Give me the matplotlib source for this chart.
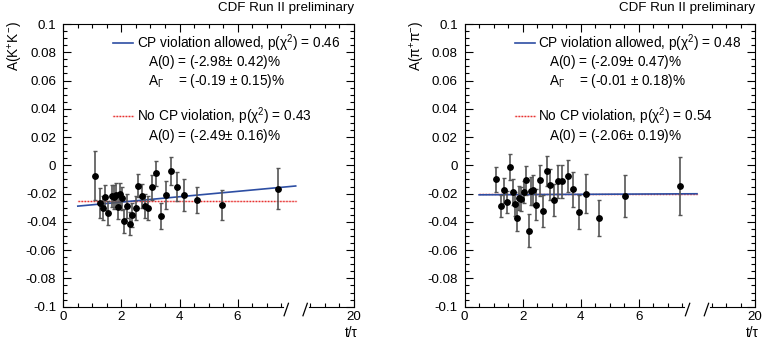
import matplotlib
matplotlib.use("Agg")
import matplotlib.pyplot as plt
import numpy as np
from matplotlib.lines import Line2D
import matplotlib.transforms as mtransforms

plt.rcParams['font.family'] = ['Liberation Sans', 'DejaVu Sans']
plt.rcParams['mathtext.fontset'] = 'custom'
plt.rcParams['mathtext.rm'] = 'Liberation Sans'
plt.rcParams['mathtext.it'] = 'Liberation Sans:italic'
plt.rcParams['mathtext.bf'] = 'Liberation Sans:bold'

# ---------------- data ----------------
t_kk = [1.09, 1.25, 1.37, 1.45, 1.55, 1.66, 1.75, 1.82, 1.87, 1.95, 2.03, 2.10, 2.19, 2.30, 2.38,
        2.49, 2.58, 2.71, 2.80, 2.92, 3.07, 3.20, 3.36, 3.52, 3.71, 3.93, 4.16, 4.60, 5.47, 7.39]
a_kk = [-0.0074, -0.0267, -0.0300, -0.0226, -0.0338, -0.0215, -0.0222, -0.0210, -0.0297, -0.0200,
        -0.0234, -0.0394, -0.0286, -0.0413, -0.0350, -0.0300, -0.0144, -0.0220, -0.0288, -0.0300,
        -0.0154, -0.0056, -0.0360, -0.0208, -0.0041, -0.0151, -0.0210, -0.0246, -0.0279, -0.0166]
e_kk = [0.0173, 0.0104, 0.0085, 0.0087, 0.0085, 0.0079, 0.0086, 0.0085, 0.0085, 0.0078,
        0.0083, 0.0083, 0.0083, 0.0083, 0.0083, 0.0086, 0.0080, 0.0085, 0.0085, 0.0086,
        0.0088, 0.0090, 0.0091, 0.0098, 0.0101, 0.0101, 0.0110, 0.0093, 0.0107, 0.0144]

t_pp = [1.08, 1.25, 1.36, 1.47, 1.56, 1.65, 1.72, 1.80, 1.87, 1.95, 2.03, 2.11, 2.20, 2.27, 2.36,
        2.47, 2.60, 2.71, 2.82, 2.93, 3.07, 3.21, 3.37, 3.55, 3.72, 3.94, 4.18, 4.62, 5.52, 7.43]
a_pp = [-0.0100, -0.0287, -0.0177, -0.0258, -0.0014, -0.0189, -0.0275, -0.0375, -0.0230, -0.0240,
        -0.0189, -0.0107, -0.0461, -0.0183, -0.0177, -0.0277, -0.0105, -0.0322, -0.0042, -0.0137,
        -0.0242, -0.0113, -0.0113, -0.0075, -0.0169, -0.0332, -0.0200, -0.0373, -0.0218, -0.0143]
e_pp = [0.0086, 0.0075, 0.0086, 0.0077, 0.0092, 0.0089, 0.0085, 0.0092, 0.0086, 0.0084,
        0.0080, 0.0100, 0.0114, 0.0098, 0.0107, 0.0110, 0.0110, 0.0115, 0.0107, 0.0110,
        0.0113, 0.0117, 0.0117, 0.0116, 0.0123, 0.0120, 0.0140, 0.0126, 0.0150, 0.0205]

# fit results: A(t) = A0 - A_Gamma * t/tau ; constant fit A0_const
fit_A0 = [-0.0298, -0.0209]
fit_AG = [-0.0019, -0.0001]
fit_const = [-0.0249, -0.0206]
fit_range = [0.5, 8.0]

ylabels = ['A(K$^{+}$K$^{-}$)', 'A(π$^{+}$π$^{-}$)']
leg_cp = ['CP violation allowed, p(χ$^{2}$) = 0.46', 'CP violation allowed, p(χ$^{2}$) = 0.48']
leg_a0 = ['A(0) = (-2.98$\\pm$ 0.42)%', 'A(0) = (-2.09$\\pm$ 0.47)%']
leg_ag = ['A$_{\\Gamma}$    = (-0.19 $\\pm$ 0.15)%', 'A$_{\\Gamma}$    = (-0.01 $\\pm$ 0.18)%']
leg_nocp = ['No CP violation, p(χ$^{2}$) = 0.43', 'No CP violation, p(χ$^{2}$) = 0.54']
leg_a0c = ['A(0) = (-2.49$\\pm$ 0.16)%', 'A(0) = (-2.06$\\pm$ 0.19)%']

xtick_pos = [0, 2, 4, 6, 10]
xtick_lab = ['0', '2', '4', '6', '20']
xminor = [0.5, 1, 1.5, 2.5, 3, 3.5, 4.5, 5, 5.5, 6.5, 7, 7.5, 8.5, 9, 9.5]
ytick_pos = [-0.1, -0.08, -0.06, -0.04, -0.02, 0, 0.02, 0.04, 0.06, 0.08, 0.1]
ytick_lab = ['-0.1', '-0.08', '-0.06', '-0.04', '-0.02', '0', '0.02', '0.04', '0.06', '0.08', '0.1']

# ---------------- figure ----------------
W, H = 764, 343
fig = plt.figure(figsize=(W / 100, H / 100), dpi=100)
fig.patch.set_facecolor('white')

def fx(px):
    return px / W

def fy(py):
    return 1 - py / H

ax_left_px = [63.3, 464.6]
ax_w_px = 290.5
ax_top, ax_bot = 24.0, 306.7
FS = 9.8
TFS = 9.6
blue = '#2d4ea3'
red = '#e8312f'
pink = '#f6b8b8'

datasets = [(t_kk, a_kk, e_kk), (t_pp, a_pp, e_pp)]

for i in range(2):
    L = ax_left_px[i]
    ax = fig.add_axes([fx(L), fy(ax_bot), ax_w_px / W, (ax_bot - ax_top) / H])
    t, a, e = datasets[i]
    ax.set_xlim(0, 10)
    ax.set_ylim(-0.1, 0.1)

    tt = np.linspace(fit_range[0], fit_range[1], 50)
    ax.plot(tt, np.full_like(tt, fit_const[i]), color=pink, lw=1.0, zorder=2)
    ax.plot(tt, np.full_like(tt, fit_const[i]), color=red, lw=1.0, ls=(0, (1, 1.2)), zorder=2.1)
    ax.plot(tt, fit_A0[i] - fit_AG[i] * tt, color=blue, lw=1.2, zorder=2.2)

    ax.errorbar(t, a, yerr=e, fmt='o', color='black', ms=3.9, ecolor='#555555',
                elinewidth=1.2, capsize=1.2, capthick=1.0, zorder=3)

    ax.set_xticks(xtick_pos)
    ax.set_xticklabels(xtick_lab)
    ax.set_xticks(xminor, minor=True)
    ax.set_yticks(ytick_pos)
    ax.set_yticklabels(ytick_lab)
    ax.set_yticks(np.arange(-0.1, 0.1001, 0.005), minor=True)
    ax.tick_params(which='both', direction='in', top=True, right=True, labelsize=TFS,
                   width=0.8, color='black')
    ax.tick_params(which='major', length=5.6)
    ax.tick_params(which='minor', length=2.6)
    ax.tick_params(axis='x', which='major', pad=3)
    ax.tick_params(axis='y', which='major', pad=5)
    for s in ax.spines.values():
        s.set_linewidth(0.8)
    ax.spines['bottom'].set_visible(False)

    # broken bottom axis
    trans = mtransforms.blended_transform_factory(ax.transData, ax.transAxes)
    ax.plot([0, 7.55], [0, 0], color='black', lw=0.8, transform=trans, clip_on=False)
    ax.plot([8.45, 10], [0, 0], color='black', lw=0.8, transform=trans, clip_on=False)
    for xs in (7.6, 8.25):
        ax.plot([xs, xs + 0.15], [-0.032, 0.012], color='black', lw=0.9,
                transform=trans, clip_on=False)

    # labels
    fig.text(fx(L - 47.5), fy(21), ylabels[i], rotation=90, ha='center', va='top', fontsize=FS)
    fig.text(fx(L + ax_w_px + 4), fy(333), 't/τ', ha='right', va='center', fontsize=FS)
    fig.text(fx(L + ax_w_px), fy(8), 'CDF Run II preliminary', ha='right', va='center', fontsize=TFS)

    # legend
    fig.add_artist(Line2D([fx(L + 50), fx(L + 70)], [fy(43), fy(43)], color=blue, lw=1.2))
    fig.add_artist(Line2D([fx(L + 50), fx(L + 70)], [fy(116), fy(116)], color=pink, lw=1.0))
    fig.add_artist(Line2D([fx(L + 50), fx(L + 70)], [fy(116), fy(116)], color=red, lw=1.0,
                          ls=(0, (1, 1.2))))
    fig.text(fx(L + 73.5), fy(43), leg_cp[i], ha='left', va='center', fontsize=FS)
    fig.text(fx(L + 84.7), fy(62), leg_a0[i], ha='left', va='center', fontsize=FS)
    fig.text(fx(L + 84.7), fy(81), leg_ag[i], ha='left', va='center', fontsize=FS)
    fig.text(fx(L + 73.5), fy(116), leg_nocp[i], ha='left', va='center', fontsize=FS)
    fig.text(fx(L + 84.7), fy(136), leg_a0c[i], ha='left', va='center', fontsize=FS)

fig.savefig('out.png', dpi=100, facecolor='white')
